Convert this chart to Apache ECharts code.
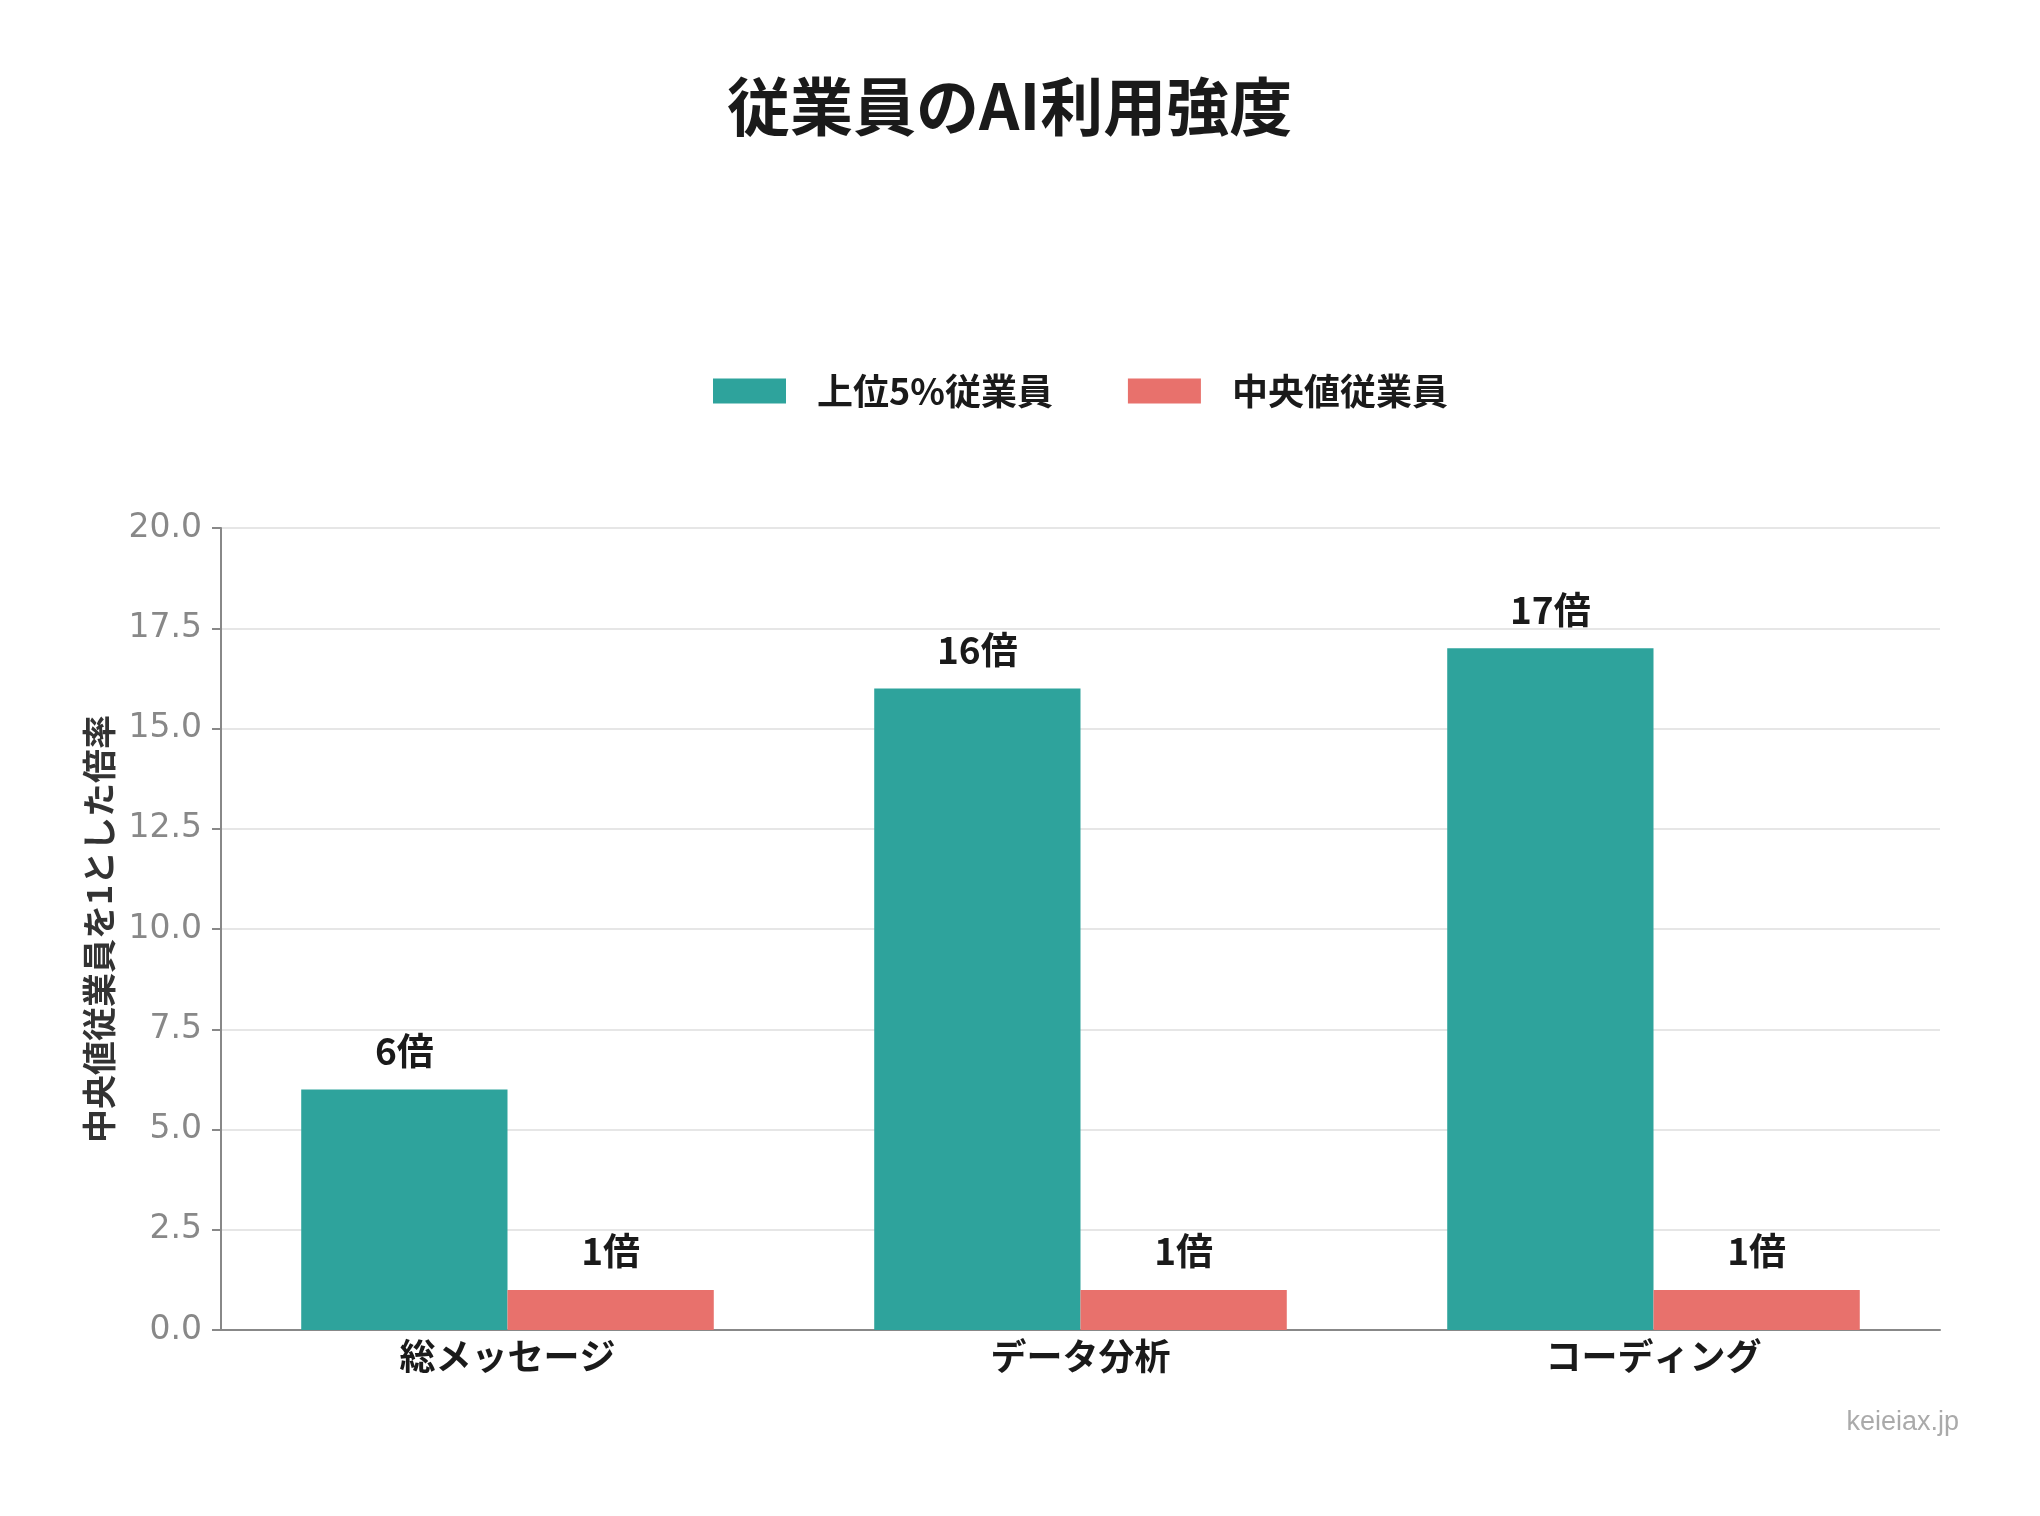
<!DOCTYPE html>
<html>
<head>
<meta charset="utf-8">
<script src="https://cdn.jsdelivr.net/npm/echarts@6/dist/echarts.min.js"></script>
<style>
  html, body { margin: 0; padding: 0; background: #fff; }
  #chart { width: 2040px; height: 1516px; }
</style>
</head>
<body>
<div id="chart"></div>
<script>
// データ
var categories = ['総メッセージ', 'データ分析', 'コーディング'];
var top5Values = [6, 16, 17];
var medianValues = [1, 1, 1];
var seriesNames = ['上位5%従業員', '中央値従業員'];
var yMin = 0, yMax = 20, yStep = 2.5;

var cjk = '"Noto Sans CJK JP", "Noto Sans", sans-serif';
var latin = '"DejaVu Sans", "Liberation Sans", sans-serif';

var chart = echarts.init(document.getElementById('chart'));

var labelStyle = {
  show: true,
  position: 'top',
  distance: 20,
  formatter: '{c}倍',
  fontFamily: cjk,
  fontWeight: 'bold',
  fontSize: 37,
  color: '#1a1a1a'
};

var option = {
  backgroundColor: '#fff',
  animation: false,
  title: {
    text: '従業員のAI利用強度',
    left: 722,
    top: 70,
    textStyle: {
      fontFamily: cjk,
      fontWeight: 'bold',
      fontSize: 63,
      color: '#1a1a1a'
    }
  },
  legend: {
    top: 368,
    left: 708,
    itemWidth: 73,
    itemHeight: 25,
    itemGap: 75,
    icon: 'rect',
    textStyle: {
      fontFamily: cjk,
      fontWeight: 'bold',
      fontSize: 36,
      color: '#1a1a1a',
      padding: [0, 0, 0, 26]
    },
    data: seriesNames
  },
  grid: {
    left: 221,
    right: 100,
    top: 528,
    bottom: 186,
    containLabel: false
  },
  xAxis: {
    type: 'category',
    data: categories,
    axisTick: { show: false },
    axisLine: { lineStyle: { color: '#888', width: 2 } },
    axisLabel: {
      margin: 8,
      fontFamily: cjk,
      fontWeight: 'bold',
      fontSize: 36,
      color: '#1a1a1a'
    }
  },
  yAxis: {
    type: 'value',
    min: yMin,
    max: yMax,
    interval: yStep,
    name: '中央値従業員を1とした倍率',
    nameLocation: 'middle',
    nameGap: 105,
    nameTextStyle: {
      fontFamily: cjk,
      fontWeight: 'bold',
      fontSize: 34,
      color: '#333'
    },
    axisLine: { show: true, lineStyle: { color: '#888', width: 2 } },
    axisTick: { show: true, length: 9, lineStyle: { color: '#888', width: 2 } },
    axisLabel: {
      margin: 19,
      fontFamily: latin,
      fontSize: 33,
      color: '#888',
      formatter: function (v) { return v.toFixed(1); }
    },
    splitLine: { lineStyle: { color: '#e6e6e6', width: 2 } }
  },
  series: [
    {
      name: seriesNames[0],
      type: 'bar',
      data: top5Values,
      barWidth: '36%',
      barGap: '0%',
      itemStyle: { color: '#2EA39C' },
      label: labelStyle
    },
    {
      name: seriesNames[1],
      type: 'bar',
      data: medianValues,
      barWidth: '36%',
      barGap: '0%',
      itemStyle: { color: '#E8716C' },
      label: labelStyle
    }
  ],
  graphic: [{
    type: 'text',
    right: 81,
    top: 1409,
    style: {
      text: 'keieiax.jp',
      fontFamily: '"Liberation Sans", sans-serif',
      fontSize: 27,
      fill: '#aaa'
    }
  }]
};

chart.setOption(option);
</script>
</body>
</html>
